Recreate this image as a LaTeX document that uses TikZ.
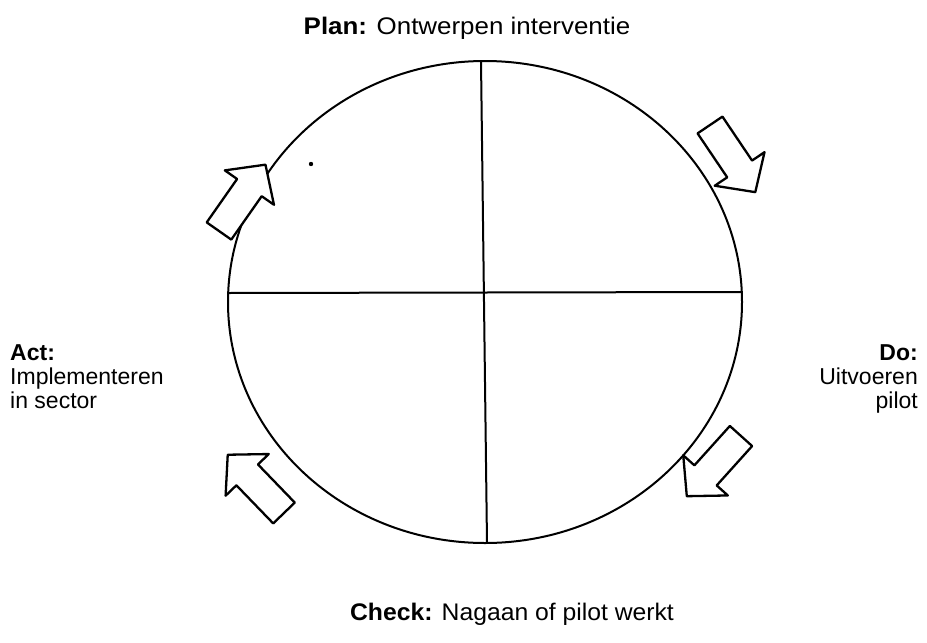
\documentclass[tikz,border=0pt]{standalone}
\usepackage{fontspec}
\setmainfont{Liberation Sans}
\begin{document}
\begin{tikzpicture}[x=1pt,y=-1pt,
  lbl/.style={font=\fontsize{23}{24}\selectfont, inner sep=0pt},
  wlbl/.style={font=\fontsize{24}{26}\selectfont\addfontfeature{FakeStretch=1.08}, inner sep=0pt},
  clbl/.style={font=\fontsize{24}{26}\selectfont\addfontfeature{FakeStretch=1.03}, inner sep=0pt},
  barrowline/.style={draw=black, fill=white, line width=2.3pt, line join=round},
  circline/.style={line width=2pt}]
\useasboundingbox (0,0) rectangle (927,643);
% circle and cross
\draw[circline] (485,302) ellipse [x radius=257, y radius=241];
\draw[circline] (228.2,293) -- (741.8,292);
\draw[circline] (481,61) -- (487,543);
% speck
\fill (311,164) circle (2.2);
% block arrows
\newcommand{\blockarr}{(0,-15) -- (53,-15) -- (53,-30) -- (81,0) -- (53,30) -- (53,15) -- (0,15) -- cycle}
\begin{scope}[shift={(219,231)}, rotate=55]
  \draw[barrowline] \blockarr;
\end{scope}
\begin{scope}[shift={(710,125)}, rotate=-56]
  \draw[barrowline] \blockarr;
\end{scope}
\begin{scope}[shift={(741,436)}, rotate=-132]
  \draw[barrowline] \blockarr;
\end{scope}
\begin{scope}[shift={(284,513)}, rotate=134]
  \draw[barrowline] \blockarr;
\end{scope}
% labels
\node[wlbl, anchor=base] (plan) at (467,34) {\textbf{Plan:} Ontwerpen interventie};
\node[clbl, anchor=base] (check) at (512,620) {\textbf{Check:} Nagaan of pilot werkt};
\node[lbl, anchor=north west, align=left] (act) at (10,344) {\textbf{Act:}\\Implementeren\\in sector};
\node[lbl, anchor=north east, align=right] (do) at (918,344) {\textbf{Do:}\\Uitvoeren\\pilot};
\end{tikzpicture}
\end{document}
